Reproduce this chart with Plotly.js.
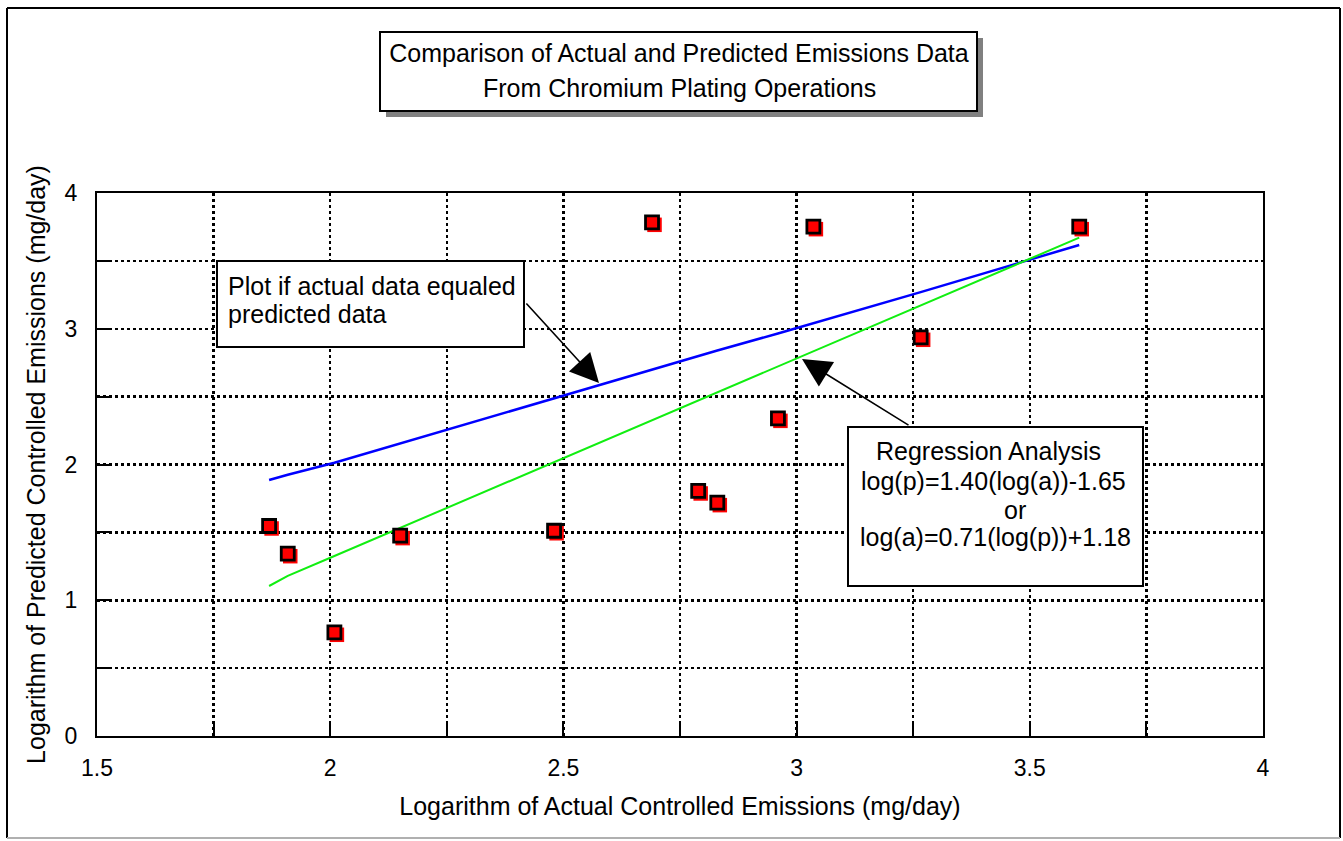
<!DOCTYPE html>
<html>
<head>
<meta charset="utf-8">
<script src="https://cdn.plot.ly/plotly-3.0.1.min.js"></script>
<style>
  html, body { margin: 0; padding: 0; background: #ffffff; }
  #chart { width: 1343px; height: 841px; }
</style>
</head>
<body>
<div id="chart"></div>
<script>
// ---- data ----
const actualLog = [1.869, 1.909, 2.009, 2.150, 2.480, 2.690, 2.789, 2.830, 2.960, 3.036, 3.266, 3.606];
const predictedLog = [1.547, 1.343, 0.764, 1.476, 1.512, 3.784, 1.805, 1.719, 2.340, 3.752, 2.937, 3.752];
const equalLineY = [1.886, 1.925, 2.013, 2.155, 2.490, 2.700, 2.800, 2.840, 2.965, 3.040, 3.270, 3.617];
const regressionLineY = [1.105, 1.179, 1.326, 1.533, 2.017, 2.325, 2.471, 2.530, 2.722, 2.833, 3.171, 3.671];
const xTickVals = [1.5, 2, 2.5, 3, 3.5, 4];
const xTickText = ['1.5', '2', '2.5', '3', '3.5', '4'];
const yTickVals = [0, 1, 2, 3, 4];
const yTickText = ['0', '1', '2', '3', '4'];

const titleLines = ['Comparison of Actual and Predicted Emissions Data', 'From Chromium Plating Operations'];
const xTitle = 'Logarithm of Actual Controlled Emissions (mg/day)';
const yTitle = 'Logarithm of Predicted Controlled Emissions (mg/day)';
const noteEqual = ['Plot if actual data equaled', 'predicted data'];
const noteRegression = ['Regression Analysis', 'log(p)=1.40(log(a))-1.65', 'or', 'log(a)=0.71(log(p))+1.18'];

// ---- layout geometry (pixels) ----
const W = 1343, H = 841;
const L = 97, R = 1263, T = 193, B = 736;
const px = p => (p - L) / (R - L);
const py = p => (B - p) / (B - T);
const FONT = 'Liberation Sans, Arial, sans-serif';

const traces = [
  { x: actualLog, y: equalLineY, type: 'scatter', mode: 'lines',
    line: { color: '#0000ff', width: 2.5 }, hoverinfo: 'skip', name: 'equal' },
  { x: actualLog, y: regressionLineY, type: 'scatter', mode: 'lines',
    line: { color: '#11ee11', width: 2 }, hoverinfo: 'skip', name: 'regression' },
  { x: actualLog, y: predictedLog, type: 'scatter', mode: 'markers', xaxis: 'x2', yaxis: 'y2',
    marker: { symbol: 'square', size: 14.5, color: '#ff0000', line: { width: 0 } }, hoverinfo: 'skip', name: 'shadow' },
  { x: actualLog, y: predictedLog, type: 'scatter', mode: 'markers', xaxis: 'x3', yaxis: 'y3',
    marker: { symbol: 'square', size: 13, color: '#ff0000', line: { color: '#000000', width: 2.8 } }, name: 'data' }
];

const dx = 2.5 / (R - L) * 2.5;
const dy = 2.5 / (B - T) * 4;

const axisCommon = {
  showline: true, linecolor: '#000000', linewidth: 2, mirror: true,
  ticks: 'inside', ticklen: 14, tickwidth: 2, tickcolor: '#000000',
  showgrid: true, gridcolor: '#000000', gridwidth: 2.5, griddash: 'dot',
  zeroline: false, tickfont: { family: FONT, size: 23, color: '#000000' },
  tickmode: 'array', fixedrange: true
};

const layout = {
  width: W, height: H,
  margin: { l: L, r: W - R, t: T, b: H - B, pad: 0 },
  paper_bgcolor: '#ffffff', plot_bgcolor: '#ffffff',
  showlegend: false,
  title: { text: titleLines[0], x: px(679), xref: 'paper', xanchor: 'center',
           y: 1 - 53 / H, yref: 'container', yanchor: 'middle',
           font: { family: FONT, size: 25, color: '#000000' } },
  xaxis: Object.assign({}, axisCommon, {
    range: [1.5, 4], tickvals: xTickVals, ticktext: xTickText, ticklabelstandoff: 10,
    minor: { dtick: 0.25, ticks: 'inside', ticklen: 14, tickwidth: 2, tickcolor: '#000000',
             showgrid: true, gridcolor: '#000000', gridwidth: 2.5, griddash: 'dot' },
    title: { text: xTitle, standoff: 18, font: { family: FONT, size: 25, color: '#000000' } }
  }),
  yaxis: Object.assign({}, axisCommon, {
    range: [0, 4], tickvals: yTickVals, ticktext: yTickText, ticklabelstandoff: 13,
    minor: { dtick: 0.5, ticks: 'inside', ticklen: 14, tickwidth: 2, tickcolor: '#000000',
             showgrid: true, gridcolor: '#000000', gridwidth: 2.5, griddash: 'dot' },
    title: { text: yTitle, standoff: 12, font: { family: FONT, size: 25, color: '#000000' } }
  }),
  xaxis2: { overlaying: 'x', range: [1.5 - dx, 4 - dx], visible: false, fixedrange: true },
  yaxis2: { overlaying: 'y', range: [0 + dy, 4 + dy], visible: false, fixedrange: true },
  xaxis3: { overlaying: 'x', range: [1.5, 4], visible: false, fixedrange: true },
  yaxis3: { overlaying: 'y', range: [0, 4], visible: false, fixedrange: true },
  shapes: [
    // outer frame
    { type: 'line', xref: 'paper', yref: 'paper', x0: px(7), x1: px(1340), y0: py(8), y1: py(8), line: { color: '#000000', width: 2 } },
    { type: 'line', xref: 'paper', yref: 'paper', x0: px(7), x1: px(7), y0: py(8), y1: py(838), line: { color: '#000000', width: 2 } },
    { type: 'line', xref: 'paper', yref: 'paper', x0: px(1340), x1: px(1340), y0: py(8), y1: py(838), line: { color: '#000000', width: 2 } },
    { type: 'line', xref: 'paper', yref: 'paper', x0: px(7), x1: px(1340), y0: py(838), y1: py(838), line: { color: '#b0b0b0', width: 2 } },
    // title box shadow + box
    { type: 'rect', xref: 'paper', yref: 'paper', x0: px(386), x1: px(983), y0: py(38), y1: py(117), fillcolor: '#808080', line: { width: 0 } },
    { type: 'rect', xref: 'paper', yref: 'paper', x0: px(380), x1: px(977), y0: py(32), y1: py(111), fillcolor: '#ffffff', line: { color: '#000000', width: 2 } },
    // note boxes
    { type: 'rect', xref: 'paper', yref: 'paper', x0: px(217), x1: px(524), y0: py(261), y1: py(347), fillcolor: '#ffffff', line: { color: '#000000', width: 2 }, layer: 'above' },
    { type: 'rect', xref: 'paper', yref: 'paper', x0: px(848), x1: px(1143), y0: py(427), y1: py(586), fillcolor: '#ffffff', line: { color: '#000000', width: 2 }, layer: 'above' }
  ],
  annotations: [
    // title second line
    { xref: 'paper', yref: 'paper', x: px(679), y: py(88), xanchor: 'center', yanchor: 'middle', showarrow: false,
      text: titleLines[1], font: { family: FONT, size: 25, color: '#000000' } },
    // arrows
    { xref: 'x', yref: 'y', x: 1.5 + (599 - L) / (R - L) * 2.5, y: (B - 383) / (B - T) * 4, text: '',
      showarrow: true, axref: 'pixel', ayref: 'pixel', ax: -74, ay: -81,
      arrowhead: 2, arrowsize: 3.6, arrowwidth: 1.6, arrowcolor: '#000000', standoff: 0 },
    { xref: 'x', yref: 'y', x: 1.5 + (802 - L) / (R - L) * 2.5, y: (B - 359) / (B - T) * 4, text: '',
      showarrow: true, axref: 'pixel', ayref: 'pixel', ax: 108, ay: 67,
      arrowhead: 2, arrowsize: 3.6, arrowwidth: 1.6, arrowcolor: '#000000', standoff: 0 },
    // note 1 text
    { xref: 'paper', yref: 'paper', x: px(226), y: py(286), xanchor: 'left', yanchor: 'middle', showarrow: false,
      text: noteEqual[0], font: { family: FONT, size: 25, color: '#000000' } },
    { xref: 'paper', yref: 'paper', x: px(226), y: py(314), xanchor: 'left', yanchor: 'middle', showarrow: false,
      text: noteEqual[1], font: { family: FONT, size: 25, color: '#000000' } },
    // regression text
    { xref: 'paper', yref: 'paper', x: px(988), y: py(451), xanchor: 'center', yanchor: 'middle', showarrow: false,
      text: noteRegression[0], font: { family: FONT, size: 25, color: '#000000' } },
    { xref: 'paper', yref: 'paper', x: px(993), y: py(481), xanchor: 'center', yanchor: 'middle', showarrow: false,
      text: noteRegression[1], font: { family: FONT, size: 25, color: '#000000' } },
    { xref: 'paper', yref: 'paper', x: px(1015), y: py(510), xanchor: 'center', yanchor: 'middle', showarrow: false,
      text: noteRegression[2], font: { family: FONT, size: 25, color: '#000000' } },
    { xref: 'paper', yref: 'paper', x: px(995), y: py(537), xanchor: 'center', yanchor: 'middle', showarrow: false,
      text: noteRegression[3], font: { family: FONT, size: 25, color: '#000000' } }
  ]
};

Plotly.newPlot('chart', traces, layout, { displayModeBar: false, staticPlot: true });
</script>
</body>
</html>
